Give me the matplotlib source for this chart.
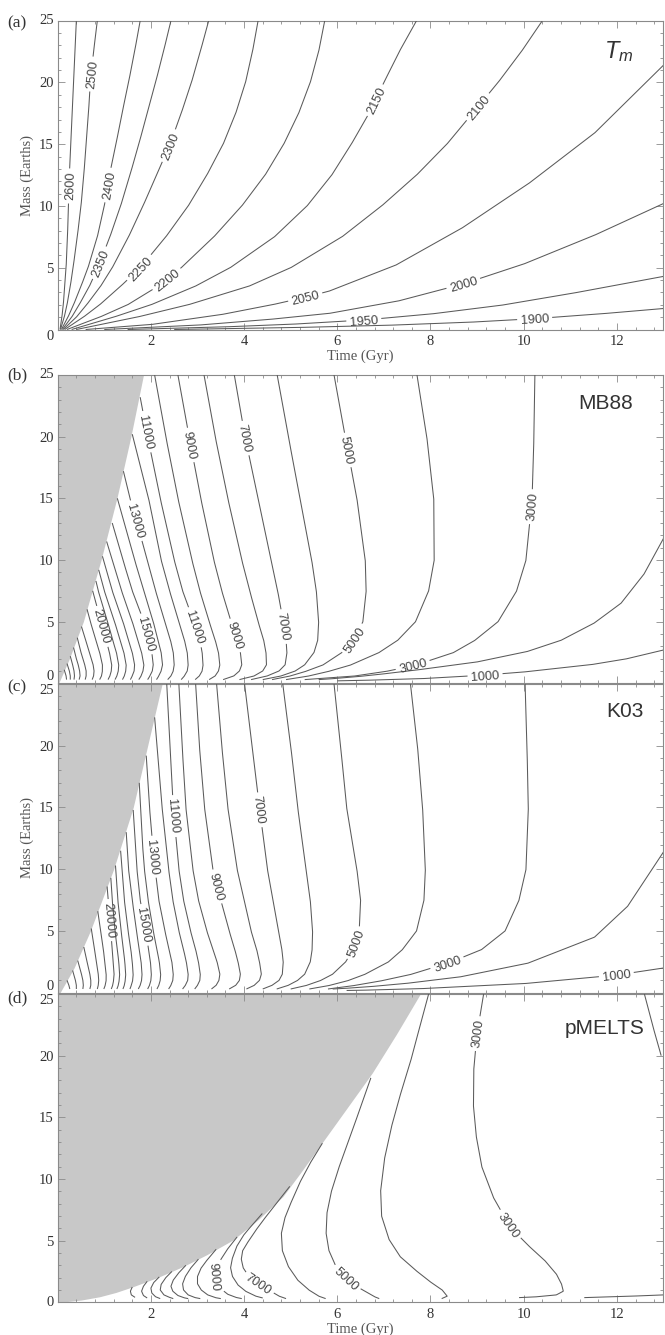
import numpy as np
import matplotlib
matplotlib.use("Agg")
import matplotlib.pyplot as plt
from matplotlib.ticker import MultipleLocator

plt.rcParams['font.family'] = ['Liberation Serif', 'DejaVu Serif']
plt.rcParams['mathtext.fontset'] = 'custom'
plt.rcParams['mathtext.it'] = 'Liberation Sans:italic'
plt.rcParams['mathtext.rm'] = 'Liberation Sans'

# ------------------------------------------------------------------ data
# Contours: level -> times [Gyr] and masses [Earths]

# (a) mantle potential temperature T_m (K)
A_GRID_M = [0, 1, 2, 3.5, 5, 7.5, 10, 12.5, 15, 17.5, 20, 22.5, 25]
A_TIME = {
    2600: [0.05, 0.09, 0.12, 0.15, 0.18, 0.21, 0.23, 0.25, 0.28, 0.31, 0.34, 0.37, 0.40],
    2500: [0.06, 0.14, 0.20, 0.27, 0.33, 0.42, 0.50, 0.56, 0.61, 0.66, 0.70, 0.77, 0.85],
    2400: [0.08, 0.22, 0.34, 0.50, 0.65, 0.85, 1.00, 1.11, 1.25, 1.38, 1.52, 1.65, 1.77],
    2350: [0.10, 0.30, 0.46, 0.68, 0.86, 1.12, 1.35, 1.55, 1.74, 1.92, 2.10, 2.27, 2.43],
    2300: [0.12, 0.40, 0.62, 0.92, 1.17, 1.52, 1.83, 2.12, 2.41, 2.65, 2.87, 3.06, 3.24],
    2250: [0.15, 0.55, 0.90, 1.35, 1.77, 2.32, 2.80, 3.20, 3.55, 3.82, 4.03, 4.18, 4.30],
    2200: [0.20, 0.90, 1.50, 2.15, 2.65, 3.35, 3.95, 4.45, 4.85, 5.17, 5.42, 5.60, 5.73],
    2150: [0.30, 1.20, 2.00, 2.95, 3.70, 4.65, 5.35, 5.88, 6.30, 6.68, 7.00, 7.33, 7.70],
    2100: [0.40, 1.70, 2.80, 4.10, 5.00, 6.10, 6.95, 7.70, 8.35, 8.90, 9.45, 9.95, 10.40],
    2050: [0.60, 2.00, 3.50, 4.60, 5.30, 5.82, 7.25, 8.67, 10.10, 11.52, 13.0],
    2000: [1.00, 3.00, 4.50, 5.82, 7.30, 8.71, 10.00, 11.50, 13.0],
    1950: [1.50, 3.50, 5.00, 6.57, 8.00, 9.50, 11.00, 13.0],
    1900: [2.50, 5.00, 7.00, 8.80, 10.24, 11.60, 13.0],
}
A_MASS = {lev: A_GRID_M for lev in (2600, 2500, 2400, 2350, 2300, 2250, 2200, 2150, 2100)}
A_MASS[2050] = [0, 0.4, 1.2, 2.0, 2.6, 3.1, 5.2, 8.2, 11.8, 15.9, 21.4]
A_MASS[2000] = [0, 0.35, 0.8, 1.3, 2.3, 3.7, 5.3, 7.6, 10.2]
A_MASS[1950] = [0, 0.2, 0.42, 0.77, 1.25, 1.95, 2.9, 4.3]
A_MASS[1900] = [0, 0.15, 0.33, 0.58, 0.88, 1.25, 1.7]

# (b) MB88
B_GRAY_T = [0.02, 0.25, 0.55, 0.93, 1.27, 1.57, 1.84]
B_GRAY_M = [0, 2, 5, 10, 15, 20, 25]
B_GRID_M = [25, 20, 15, 10, 7.5, 5, 3.5, 2.5, 1.5, 1.0, 0.6, 0.3]
B_TIME = {
    1000: [13.0, 12.23, 11.52, 10.1, 9.17, 7.96, 6.89, 6.0],
    2000: [13.0, 12.59, 12.09, 11.52, 10.81, 10.1, 9.03, 7.96, 7.2, 6.6, 6.0, 5.6],
    3000: [10.24, 10.22, 10.18, 10.05, 9.85, 9.45, 8.96, 8.50, 7.70, 7.10, 6.40, 5.30],
    4000: [7.71, 7.92, 8.07, 8.08, 7.96, 7.68, 7.30, 6.90, 6.30, 5.85, 5.40, 4.90],
    5000: [5.93, 6.17, 6.42, 6.60, 6.62, 6.55, 6.35, 6.10, 5.70, 5.35, 5.00, 4.60],
    6000: [4.71, 4.95, 5.20, 5.45, 5.55, 5.60, 5.58, 5.50, 5.30, 5.10, 4.80, 4.40],
    7000: [3.79, 4.02, 4.30, 4.58, 4.72, 4.84, 4.90, 4.92, 4.88, 4.75, 4.50, 4.15],
    8000: [3.14, 3.38, 3.65, 3.95, 4.12, 4.30, 4.42, 4.47, 4.48, 4.40, 4.22, 3.90],
    9000: [2.58, 2.82, 3.07, 3.35, 3.52, 3.72, 3.85, 3.92, 3.95, 3.90, 3.78, 3.55],
    10000: [2.08, 2.32, 2.58, 2.88, 3.05, 3.25, 3.38, 3.45, 3.48, 3.45, 3.38, 3.25],
    11000: [1.77, 1.93, 2.20, 2.50, 2.68, 2.92, 3.05, 3.10, 3.12, 3.10, 3.04, 2.95],
    12000: [1.60, 1.95, 2.22, 2.40, 2.60, 2.72, 2.78, 2.80, 2.78, 2.72, 2.65],
    13000: [1.41, 1.55, 1.69, 1.92, 2.10, 2.30, 2.42, 2.48, 2.50, 2.48, 2.43, 2.36],
    14000: [1.28, 1.65, 1.85, 2.05, 2.15, 2.22, 2.25, 2.22, 2.17, 2.12],
    15000: [1.17, 1.40, 1.60, 1.85, 1.96, 2.02, 2.05, 2.03, 1.98, 1.93],
    16000: [1.05, 1.37, 1.60, 1.72, 1.80, 1.85, 1.83, 1.79, 1.74],
    17000: [0.96, 1.17, 1.40, 1.52, 1.60, 1.65, 1.64, 1.60, 1.56],
    18000: [0.88, 1.00, 1.22, 1.34, 1.42, 1.47, 1.46, 1.43, 1.39],
    19000: [0.82, 0.87, 1.07, 1.18, 1.26, 1.31, 1.30, 1.27, 1.23],
    20000: [0.75, 0.93, 1.04, 1.11, 1.16, 1.15, 1.12, 1.08],
    21000: [0.63, 0.70, 0.82, 0.90, 0.96, 0.96, 0.94, 0.90],
    22000: [0.51, 0.60, 0.68, 0.76, 0.78, 0.77, 0.74],
    23000: [0.42, 0.50, 0.58, 0.61, 0.61, 0.59],
    24000: [0.34, 0.40, 0.44, 0.47, 0.48, 0.46],
    25000: [0.27, 0.32, 0.35, 0.36, 0.35],
    26000: [0.20, 0.25, 0.27, 0.27],
    27000: [0.14, 0.18, 0.19],
}
B_MASS = {lev: B_GRID_M for lev in (3000, 4000, 5000, 6000, 7000, 8000, 9000, 10000)}
B_MASS.update({
    1000: [2.7, 2.0, 1.55, 0.95, 0.67, 0.4, 0.27, 0.2],
    2000: [11.75, 8.9, 6.5, 4.9, 3.5, 2.6, 1.75, 1.2, 0.85, 0.6, 0.4, 0.3],
    11000: [23.2] + B_GRID_M[1:],
    12000: [20.2] + B_GRID_M[2:],
    13000: [17.2, 15, 13.2] + B_GRID_M[3:],
    14000: [15.0] + B_GRID_M[3:],
    15000: [13.0] + B_GRID_M[3:],
    16000: [11.5] + B_GRID_M[4:],
    17000: [10.3] + B_GRID_M[4:],
    18000: [9.2] + B_GRID_M[4:],
    19000: [8.3] + B_GRID_M[4:],
    20000: [7.5] + B_GRID_M[5:],
    21000: [6.0] + B_GRID_M[5:],
    22000: [4.6] + B_GRID_M[6:],
    23000: [3.7] + B_GRID_M[7:],
    24000: [2.9, 2.0, 1.5, 1.0, 0.6, 0.3],
    25000: [2.2, 1.5, 1.0, 0.6, 0.3],
    26000: [1.6, 1.0, 0.6, 0.3],
    27000: [1.1, 0.6, 0.3],
})

# (c) K03
C_GRAY_T = [0.05, 0.35, 0.70, 1.20, 1.62, 1.93, 2.24]
C_GRAY_M = [0, 2, 5, 10, 15, 20, 25]
C_GRID_M = [25, 20, 15, 10, 7.5, 5, 3.5, 2.5, 1.5, 1.0, 0.6, 0.3]
C_TIME = {
    1000: [13.0, 11.99, 10.1, 7.96, 6.8, 6.2],
    2000: [13.0, 12.23, 11.52, 10.1, 8.67, 7.6, 6.9, 6.3, 5.9],
    3000: [10.03, 10.07, 10.10, 10.05, 9.90, 9.60, 9.10, 8.45, 7.60, 7.00, 6.40, 5.80],
    4000: [7.57, 7.72, 7.83, 7.89, 7.86, 7.70, 7.40, 7.10, 6.60, 6.25, 5.85, 5.40],
    5000: [5.93, 6.07, 6.20, 6.42, 6.50, 6.47, 6.34, 6.18, 5.90, 5.65, 5.35, 5.00],
    6000: [4.83, 5.00, 5.15, 5.33, 5.42, 5.47, 5.46, 5.42, 5.30, 5.15, 4.95, 4.70],
    7000: [4.01, 4.17, 4.33, 4.50, 4.62, 4.74, 4.81, 4.84, 4.82, 4.75, 4.60, 4.40],
    8000: [3.41, 3.52, 3.65, 3.85, 4.00, 4.15, 4.27, 4.33, 4.37, 4.33, 4.22, 4.05],
    9000: [2.96, 3.04, 3.15, 3.33, 3.50, 3.68, 3.80, 3.87, 3.92, 3.90, 3.82, 3.68],
    10000: [2.60, 2.67, 2.75, 2.90, 3.02, 3.20, 3.33, 3.42, 3.48, 3.46, 3.40, 3.30],
    11000: [2.34, 2.41, 2.48, 2.60, 2.70, 2.85, 2.96, 3.02, 3.06, 3.05, 3.00, 2.94],
    12000: [2.08, 2.13, 2.24, 2.38, 2.47, 2.60, 2.70, 2.76, 2.80, 2.79, 2.74, 2.68],
    13000: [1.90, 1.97, 2.06, 2.17, 2.30, 2.39, 2.45, 2.48, 2.47, 2.43, 2.38],
    14000: [1.75, 1.82, 1.86, 1.94, 2.05, 2.13, 2.18, 2.21, 2.20, 2.17, 2.13],
    15000: [1.62, 1.70, 1.77, 1.87, 1.95, 1.99, 2.01, 2.00, 1.97, 1.93],
    16000: [1.47, 1.52, 1.60, 1.69, 1.75, 1.79, 1.81, 1.80, 1.77, 1.73],
    17000: [1.35, 1.43, 1.51, 1.57, 1.60, 1.62, 1.61, 1.58, 1.55],
    18000: [1.24, 1.29, 1.36, 1.41, 1.44, 1.46, 1.45, 1.43, 1.40],
    19000: [1.14, 1.17, 1.23, 1.28, 1.31, 1.33, 1.32, 1.30, 1.27],
    20000: [1.06, 1.12, 1.17, 1.19, 1.21, 1.20, 1.18, 1.15],
    21000: [0.86, 0.92, 0.98, 1.01, 1.04, 1.04, 1.02, 0.99],
    22000: [0.72, 0.79, 0.83, 0.87, 0.88, 0.87, 0.85],
    23000: [0.56, 0.63, 0.69, 0.71, 0.71, 0.69],
    24000: [0.43, 0.51, 0.54, 0.55, 0.54],
    25000: [0.32, 0.38, 0.40, 0.40],
    26000: [0.20, 0.24, 0.26],
}
C_MASS = {lev: C_GRID_M for lev in (3000, 4000, 5000, 6000, 7000, 8000, 9000, 10000, 11000)}
C_MASS.update({
    1000: [2.0, 1.43, 0.76, 0.35, 0.22, 0.18],
    2000: [11.4, 7.0, 4.5, 2.4, 1.3, 0.8, 0.55, 0.38, 0.3],
    12000: [22.3] + C_GRID_M[1:],
    13000: [19.2, 15, 11, 7.5, 5, 3.5, 2.5, 1.5, 1.0, 0.6, 0.3],
    14000: [17, 12, 10, 7.5, 5, 3.5, 2.5, 1.5, 1.0, 0.6, 0.3],
    15000: [14.8, 10, 7.5, 5.5, 3.5, 2.5, 1.5, 1.0, 0.6, 0.3],
    16000: [13] + C_GRID_M[3:],
    17000: [11.5] + C_GRID_M[4:],
    18000: [10.3] + C_GRID_M[4:],
    19000: [9.3] + C_GRID_M[4:],
    20000: [8.6, 5.9] + C_GRID_M[6:],
    21000: [6.6] + C_GRID_M[5:],
    22000: [5.2] + C_GRID_M[6:],
    23000: [3.7] + C_GRID_M[7:],
    24000: [2.6] + C_GRID_M[8:],
    25000: [1.8] + C_GRID_M[9:],
    26000: [1.0, 0.6, 0.3],
})

# (d) pMELTS
D_GRAY_T = [0.05, 0.5, 0.9, 1.25, 1.62, 2.15, 2.69, 3.2, 3.76, 4.3, 4.83, 5.22, 5.61,
            6.18, 6.75, 7.27, 7.78]
D_GRAY_M = [0, 0.18, 0.45, 0.8, 1.27, 2.02, 2.9, 3.86, 5.05, 6.7, 8.57, 10.55, 12.6,
            15.6, 18.6, 21.75, 25]
D_TIME = {
    '2000a': [12.59, 12.8, 12.95],
    '2000b': [11.3, 12.2, 13.0],
    3000: [9.14, 9.0, 8.93, 8.92, 8.98, 9.1, 9.35, 9.71, 10.1, 10.45, 10.7, 10.81, 10.85,
           10.7, 10.3, 9.9],
    4000: [7.96, 7.78, 7.6, 7.38, 7.18, 7.02, 6.93, 6.95, 7.11, 7.35, 7.68, 7.98, 8.25,
           8.36, 8.24],
    5000: [6.72, 6.48, 6.25, 6.05, 5.88, 5.78, 5.76, 5.82, 5.96, 6.2, 6.5, 6.8, 6.9],
    6000: [5.68, 5.45, 5.22, 5.03, 4.88, 4.8, 4.82, 4.95, 5.15, 5.39, 5.6, 5.75],
    7000: [4.98, 4.75, 4.5, 4.3, 4.1, 3.97, 3.94, 3.98, 4.1, 4.32, 4.55, 4.75, 4.9],
    8000: [4.39, 4.18, 4.0, 3.85, 3.75, 3.71, 3.75, 3.87, 4.03, 4.25, 4.4],
    9000: [3.85, 3.66, 3.52, 3.42, 3.38, 3.41, 3.5, 3.65, 3.82, 3.95],
    10000: [3.4, 3.22, 3.08, 3.0, 3.0, 3.08, 3.22, 3.38, 3.5],
    11000: [3.02, 2.86, 2.74, 2.68, 2.7, 2.8, 2.95, 3.06],
    12000: [2.75, 2.6, 2.48, 2.43, 2.47, 2.58, 2.72, 2.8],
    13000: [2.45, 2.32, 2.22, 2.2, 2.28, 2.4, 2.48],
    14000: [2.18, 2.06, 2.0, 2.02, 2.1, 2.2],
    15000: [1.92, 1.84, 1.8, 1.84, 1.92],
    16000: [1.6, 1.56, 1.58, 1.66],
}
D_MASS = {
    '2000a': [25, 22, 20],
    '2000b': [0.38, 0.48, 0.6],
    3000: [25, 21.8, 19, 16, 13.5, 11, 8.5, 6.1, 4.6, 3.4, 2.3, 1.5, 0.9, 0.6, 0.45, 0.38],
    4000: [25, 22.5, 19.9, 17.2, 14.5, 11.8, 9.1, 7.0, 5.1, 3.7, 2.6, 1.7, 1.0, 0.5, 0.3],
    5000: [18.2, 15.6, 13.2, 11.1, 9.1, 7.3, 5.6, 4.2, 3.0, 1.95, 1.1, 0.45, 0.3],
    6000: [12.9, 11.5, 9.9, 8.3, 6.9, 5.6, 4.2, 2.9, 1.8, 1.0, 0.5, 0.3],
    7000: [9.4, 8.3, 7.1, 6.1, 5.0, 4.2, 3.5, 2.8, 2.1, 1.53, 0.95, 0.5, 0.3],
    8000: [7.2, 6.3, 5.5, 4.6, 3.6, 2.8, 2.1, 1.4, 0.9, 0.5, 0.35],
    9000: [5.3, 4.4, 3.6, 2.9, 2.2, 1.6, 1.1, 0.65, 0.4, 0.3],
    10000: [4.3, 3.5, 2.8, 2.1, 1.5, 1.0, 0.6, 0.38, 0.3],
    11000: [3.5, 2.8, 2.1, 1.5, 1.0, 0.6, 0.38, 0.3],
    12000: [3.0, 2.4, 1.8, 1.3, 0.9, 0.55, 0.36, 0.3],
    13000: [2.5, 2.0, 1.45, 1.0, 0.6, 0.4, 0.3],
    14000: [2.06, 1.6, 1.15, 0.75, 0.45, 0.3],
    15000: [1.7, 1.3, 0.9, 0.55, 0.35],
    16000: [1.24, 0.9, 0.6, 0.4],
}

# inline label anchors (level, time, mass) -- layout only
A_LABELS = [(2600, 0.23, 11.6), (2500, 0.70, 20.7), (2400, 1.05, 11.7), (2350, 0.90, 5.4),
            (2300, 2.44, 14.8), (2250, 1.81, 4.8), (2200, 2.35, 4.0), (2150, 6.74, 18.7),
            (2100, 8.96, 18.2), (2050, 5.3, 2.8), (2000, 8.71, 3.7), (1950, 6.57, 0.77),
            (1900, 10.24, 0.9)]
B_LABELS = [(11000, 1.91, 20.4), (11000, 2.98, 4.6), (9000, 2.83, 19.3), (9000, 3.83, 3.9),
            (7000, 4.04, 19.9), (7000, 4.83, 4.6), (5000, 6.22, 18.9), (5000, 6.32, 3.65),
            (3000, 10.2, 14.3), (3000, 7.61, 1.6), (1000, 9.17, 0.67), (13000, 1.69, 13.2),
            (15000, 1.94, 4.05), (20000, 0.95, 4.6)]
C_LABELS = [(11000, 2.48, 14.3), (13000, 2.06, 11.0), (7000, 4.33, 14.8), (9000, 3.44, 8.6),
            (20000, 1.12, 5.9), (15000, 1.87, 5.5), (5000, 6.39, 4.0), (3000, 8.35, 2.5),
            (1000, 11.99, 1.43)]
D_LABELS = [(3000, 8.97, 21.8), (3000, 9.74, 6.4), (5000, 6.2, 1.95), (7000, 4.32, 1.53),
            (9000, 3.37, 2.1)]

# ------------------------------------------------------------------ style
W, H = 665, 1335
LINE_C = '#5a5a5a'
AX_C = '#8a8a8a'
TXT_C = '#333333'
GRAY = '#c8c8c8'
LAB_FS = 9.2
SANS = ['Liberation Sans', 'DejaVu Sans']

fig = plt.figure(figsize=(W / 100, H / 100), dpi=100)


def px_rect(top, bottom, left=57.7, right=663.5):
    return [left / W, 1 - bottom / H, (right - left) / W, (bottom - top) / H]


rects = [px_rect(20.7, 329.5), px_rect(375.0, 683.3), px_rect(684.0, 992.7), px_rect(994.0, 1302.3)]
axes = [fig.add_axes(r) for r in rects]


def style_axis(ax, xlabels, zero_va, top_va):
    ax.set_xlim(0, 13)
    ax.set_ylim(0, 25)
    ax.set_xticks([2, 4, 6, 8, 10, 12])
    ax.set_yticks([0, 5, 10, 15, 20, 25])
    ax.xaxis.set_minor_locator(MultipleLocator(0.4))
    ax.yaxis.set_minor_locator(MultipleLocator(1))
    ax.tick_params(which='both', direction='in', top=True, right=True, color=AX_C,
                   width=0.6, labelsize=10.5, labelcolor=TXT_C)
    ax.tick_params(which='major', length=5, pad=4)
    ax.tick_params(which='minor', length=2.5)
    ax.tick_params(axis='y', which='major', pad=3)
    if not xlabels:
        ax.tick_params(axis='x', labelbottom=False)
    yt = ax.yaxis.get_major_ticks()
    yt[0].label1.set_verticalalignment(zero_va)
    yt[-1].label1.set_verticalalignment(top_va)
    for sp in ax.spines.values():
        sp.set_color(AX_C)
        sp.set_linewidth(0.8)


def draw_curve(ax, t, m, labels):
    pts = ax.transData.transform(np.column_stack([t, m]))
    d = np.hypot(*np.diff(pts, axis=0).T)
    s = np.concatenate([[0.0], np.cumsum(d)])
    n = max(int(s[-1] * 2), 2)
    ss = np.linspace(0, s[-1], n)
    px = np.interp(ss, s, pts[:, 0])
    py = np.interp(ss, s, pts[:, 1])
    keep = np.ones(n, bool)
    inv = ax.transData.inverted()
    for (tx, my, txt) in labels:
        lp = ax.transData.transform((tx, my))
        i = int(np.argmin(np.hypot(px - lp[0], py - lp[1])))
        j0, j1 = max(i - 20, 0), min(i + 20, n - 1)
        ang = np.degrees(np.arctan2(py[j1] - py[j0], px[j1] - px[j0]))
        if ang > 90:
            ang -= 180
        if ang <= -90:
            ang += 180
        w = len(txt) * 0.556 * LAB_FS * 100 / 72
        keep &= np.abs(ss - ss[i]) > w / 2 + 3
        xy = inv.transform((px[i], py[i]))
        ax.text(xy[0], xy[1], txt, rotation=ang, rotation_mode='anchor', ha='center',
                va='center_baseline', fontsize=LAB_FS, family=SANS, color='#444444', zorder=4)
    dat = inv.transform(np.column_stack([px, py]))
    x = np.where(keep, dat[:, 0], np.nan)
    y = np.where(keep, dat[:, 1], np.nan)
    ax.plot(x, y, color=LINE_C, lw=0.75, zorder=3, solid_capstyle='butt')


def draw_panel(ax, times, masses, labels, gray_t=None, gray_m=None):
    if gray_t is not None:
        ax.fill_betweenx(gray_m, 0, gray_t, color=GRAY, lw=0, zorder=1)
    for key in times:
        labs = [(t, m, str(l)) for (l, t, m) in labels if l == key]
        draw_curve(ax, times[key], masses[key], labs)


style_axis(axes[0], True, 'top', 'center')
style_axis(axes[1], False, 'bottom', 'center')
style_axis(axes[2], False, 'bottom', 'top')
style_axis(axes[3], True, 'center', 'top')

draw_panel(axes[0], A_TIME, A_MASS, A_LABELS)
draw_panel(axes[1], B_TIME, B_MASS, B_LABELS, B_GRAY_T, B_GRAY_M)
draw_panel(axes[2], C_TIME, C_MASS, C_LABELS, C_GRAY_T, C_GRAY_M)
draw_panel(axes[3], D_TIME, D_MASS, D_LABELS, D_GRAY_T, D_GRAY_M)

# panel titles
axes[0].text(0.951, 0.899, r'$T_m$', transform=axes[0].transAxes, ha='right', va='center',
             fontsize=17, color=TXT_C)
axes[1].text(0.950, 0.908, 'MB88', transform=axes[1].transAxes, ha='right', va='center',
             fontsize=15, family=SANS, color=TXT_C)
axes[2].text(0.967, 0.910, 'K03', transform=axes[2].transAxes, ha='right', va='center',
             fontsize=15, family=SANS, color=TXT_C)
axes[3].text(0.968, 0.889, 'pMELTS', transform=axes[3].transAxes, ha='right', va='center',
             fontsize=15, family=SANS, color=TXT_C)

# panel letters
for lab, ypx in zip(['(a)', '(b)', '(c)', '(d)'], [23.3, 375.0, 687.0, 998.0]):
    fig.text(7 / W, 1 - ypx / H, lab, ha='left', va='center', fontsize=12.5, color=TXT_C)

# axis labels
for ypx in [356.7, 1329.0]:
    fig.text(360.6 / W, 1 - ypx / H, 'Time (Gyr)', ha='center', va='center',
             fontsize=10.5, color='#555555')
for ypx in [175.0, 838.0]:
    fig.text(27 / W, 1 - ypx / H, 'Mass (Earths)', ha='center', va='center', rotation=90,
             fontsize=10.5, color='#555555')

fig.savefig('out.png', dpi=100, facecolor='white')
